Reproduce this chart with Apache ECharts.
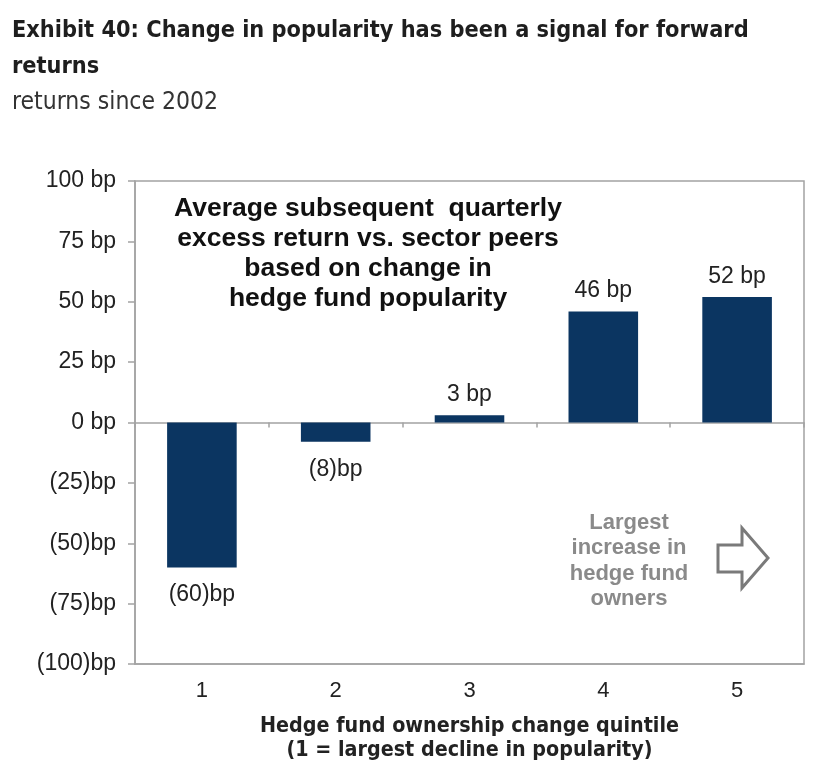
<!DOCTYPE html>
<html><head><meta charset="utf-8">
<script src="https://cdn.jsdelivr.net/npm/echarts@6/dist/echarts.min.js"></script>
<style>html,body{margin:0;padding:0;background:#fff}#c{width:816px;height:784px}</style>
</head><body><div id="c"></div>
<script>
const categories = ['1', '2', '3', '4', '5'];
const values = [-60, -8, 3, 46, 52];
const yMin = -100, yMax = 100, yInterval = 25;
const titleText = 'Exhibit 40: Change in popularity has been a signal for forward\nreturns';
const subtitleText = 'returns since 2002';
const xName = 'Hedge fund ownership change quintile\n(1 = largest decline in popularity)';
const noteText = 'Average subsequent  quarterly\nexcess return vs. sector peers\nbased on change in\nhedge fund popularity';
const grayNote = 'Largest\nincrease in\nhedge fund\nowners';

const fmt = v => v < 0 ? '(' + (-v) + ')bp' : v + ' bp';
const narrow = "'Liberation Sans Narrow','DejaVu Sans Condensed',sans-serif";
const sans = "'Liberation Sans',Arial,sans-serif";
const gray = '#a3a3a3';

const chart = echarts.init(document.getElementById('c'));
chart.setOption({
  backgroundColor: '#fff',
  animation: false,
  title: [
    { text: titleText, left: 12, top: 13, padding: 0,
      textStyle: { fontFamily: narrow, fontWeight: 'bold', fontSize: 23.3, lineHeight: 36, color: '#1e1e1e' } },
    { text: subtitleText, left: 12, top: 90, padding: 0,
      textStyle: { fontFamily: narrow, fontWeight: 'normal', fontSize: 24.5, color: '#333' } }
  ],
  grid: { left: 135, right: 12, top: 181, bottom: 120, show: true, borderColor: gray, borderWidth: 1.5 },
  xAxis: [
    { type: 'category', data: categories, position: 'bottom',
      axisLine: { onZero: true, lineStyle: { color: gray, width: 1.5 } },
      axisTick: { show: true, length: 5, lineStyle: { color: gray, width: 1.5 } },
      axisLabel: { show: false } },
    { type: 'category', data: categories, position: 'bottom',
      axisLine: { onZero: false, lineStyle: { color: gray, width: 1.5 } },
      axisTick: { show: false },
      axisLabel: { fontFamily: sans, fontSize: 22, color: '#222', margin: 16 },
      name: xName, nameLocation: 'middle', nameGap: 51,
      nameTextStyle: { fontFamily: narrow, fontWeight: 'bold', fontSize: 21.3, lineHeight: 23.5, color: '#222' } }
  ],
  yAxis: {
    type: 'value', min: yMin, max: yMax, interval: yInterval,
    splitLine: { show: false },
    axisLine: { show: true, lineStyle: { color: gray, width: 1.5 } },
    axisTick: { show: true, length: 7, lineStyle: { color: gray, width: 1.5 } },
    axisLabel: { formatter: fmt, fontFamily: sans, fontSize: 23, color: '#222', margin: 19 }
  },
  series: [{
    type: 'bar', xAxisIndex: 0, barWidth: '52%',
    itemStyle: { color: '#0b3561' },
    data: values.map(v => ({
      value: v,
      label: { show: true, position: v < 0 ? 'bottom' : 'top', distance: v < 0 ? 16 : 9,
        formatter: p => fmt(p.value), fontFamily: sans, fontSize: 23, color: '#222' }
    }))
  }],
  graphic: [
    { type: 'text', z: 10,
      style: { text: noteText, x: 368, y: 194, textAlign: 'center', textVerticalAlign: 'top',
        font: "bold 26.5px " + sans, lineHeight: 30, fill: '#111' } },
    { type: 'text', z: 10,
      style: { text: grayNote, x: 629, y: 510, textAlign: 'center', textVerticalAlign: 'top',
        font: "bold 22px " + sans, lineHeight: 25.5, fill: '#8a8a8a' } },
    { type: 'polygon', z: 10,
      shape: { points: [[718,545],[742,545],[742,528],[768,558],[742,588],[742,572],[718,572]] },
      style: { fill: '#fff', stroke: '#7a7a7a', lineWidth: 3 } }
  ]
});
</script></body></html>
